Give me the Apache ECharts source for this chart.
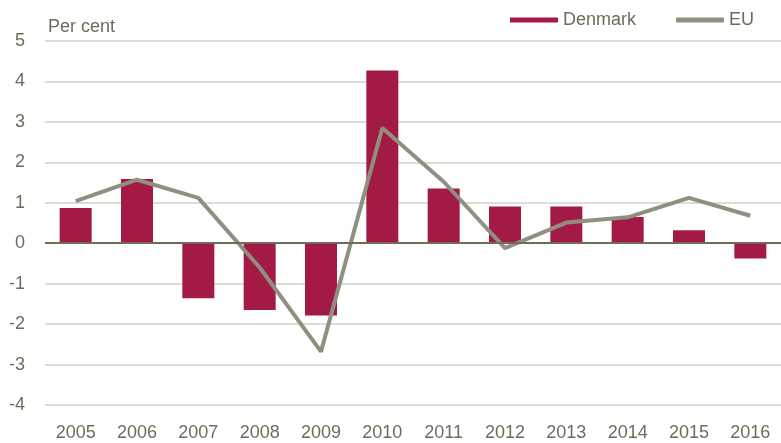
<!DOCTYPE html>
<html>
<head>
<meta charset="utf-8">
<script src="https://cdn.jsdelivr.net/npm/echarts@6/dist/echarts.min.js"></script>
<style>
  html, body { margin: 0; padding: 0; background: #fff; }
  #chart { width: 781px; height: 443px; }
</style>
</head>
<body>
<div id="chart"></div>
<script>
const years = ['2005', '2006', '2007', '2008', '2009', '2010', '2011', '2012', '2013', '2014', '2015', '2016'];
const denmark = [0.87, 1.59, -1.36, -1.65, -1.79, 4.27, 1.35, 0.91, 0.91, 0.65, 0.32, -0.38];
const eu = [1.04, 1.57, 1.12, -0.6, -2.68, 2.85, 1.52, -0.12, 0.51, 0.64, 1.12, 0.68];

const textColor = '#6e6c5c';
const font = "'Liberation Sans', Arial, sans-serif";

const chart = echarts.init(document.getElementById('chart'), null, { renderer: 'canvas' });

chart.setOption({
  animation: false,
  textStyle: { fontFamily: font },
  grid: { left: 45, right: -8, top: 41, bottom: 38, containLabel: false },
  title: {
    text: 'Per cent',
    left: 43,
    top: 13,
    textStyle: { color: textColor, fontSize: 18, fontWeight: 'normal', fontFamily: font },
  },
  legend: {
    right: 22,
    top: 6,
    itemGap: 40,
    itemWidth: 48,
    itemHeight: 5,
    textStyle: { color: textColor, fontSize: 18, fontFamily: font },
    data: [
      { name: 'Denmark', icon: 'rect' },
      { name: 'EU', icon: 'roundRect' },
    ],
  },
  xAxis: {
    type: 'category',
    data: years,
    axisLine: { show: false, onZero: false },
    axisTick: { show: false },
    axisLabel: { color: textColor, fontSize: 18, margin: 19, fontFamily: font },
  },
  yAxis: {
    type: 'value',
    min: -4,
    max: 5,
    interval: 1,
    axisLine: { show: false },
    axisTick: { show: false },
    axisLabel: { color: textColor, fontSize: 18, margin: 20, fontFamily: font },
    splitLine: { lineStyle: { color: '#d3d1c6', width: 1.5 } },
  },
  series: [
    {
      name: 'Denmark',
      type: 'bar',
      data: denmark,
      barWidth: 32,
      itemStyle: { color: '#a31a45' },
      markLine: {
        silent: true,
        symbol: 'none',
        label: { show: false },
        lineStyle: { color: '#6e6c5c', width: 2, type: 'solid' },
        data: [{ yAxis: 0 }],
      },
    },
    {
      name: 'EU',
      type: 'line',
      data: eu,
      symbol: 'none',
      lineStyle: { color: '#918f80', width: 4 },
      itemStyle: { color: '#918f80' },
      z: 3,
    },
  ],
});
</script>
</body>
</html>
